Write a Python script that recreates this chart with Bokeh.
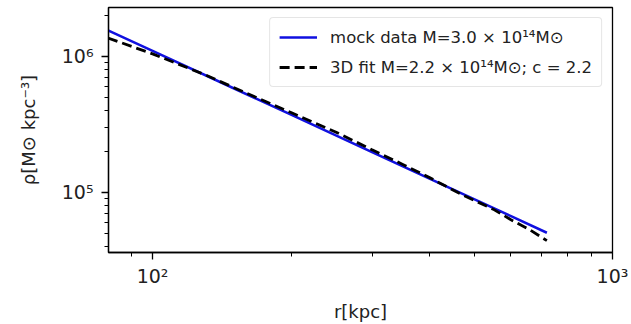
from bokeh.plotting import figure
from bokeh.models import (Range1d, FixedTicker, CustomJSTickFormatter, Legend, LegendItem)
from bokeh.embed import file_html
from bokeh.resources import INLINE

# mock data (power law)
r_mock = [80, 100, 150, 200, 300, 400, 500, 600, 720]
rho_mock = [1.55e6, 1.094e6, 5.81e5, 3.71e5, 1.97e5, 1.259e5, 8.89e4, 6.69e4, 5.03e4]

# 3D fit (NFW-like curve)
r_fit = [80, 100, 130, 160, 200, 250, 300, 350, 400, 470, 550, 600, 660, 720]
rho_fit = [1.36e6, 1.04e6, 7.3e5, 5.35e5, 3.85e5, 2.77e5, 2.05e5, 1.6e5, 1.28e5,
           9.6e4, 7.5e4, 6.3e4, 5.3e4, 4.4e4]

x_major = [100, 1000]
x_minor = [90, 200, 300, 400, 500, 600, 700, 800, 900]
y_major = [1e5, 1e6]
y_minor = [4e4, 5e4, 6e4, 7e4, 8e4, 9e4, 2e5, 3e5, 4e5, 5e5, 6e5, 7e5, 8e5, 9e5, 2e6]

label_mock = "mock data M=3.0 × 10¹⁴M⊙"
label_fit = "3D fit M=2.2 × 10¹⁴M⊙; c = 2.2"

FONT = "DejaVu Sans"

p = figure(width=631, height=324, x_axis_type="log", y_axis_type="log",
           x_range=Range1d(80.2, 1000), y_range=Range1d(3.6e4, 2.28e6),
           output_backend="svg", toolbar_location=None,
           min_border_left=108, min_border_right=19, min_border_top=7,
           min_border_bottom=71)

p.xgrid.visible = False
p.ygrid.visible = False
p.outline_line_color = "black"
p.outline_line_width = 1.3
p.background_fill_color = "white"
p.border_fill_color = "white"

l1 = p.line(r_mock, rho_mock, line_color="#1010e0", line_width=2.5)
l2 = p.line(r_fit, rho_fit, line_color="black", line_width=2.8, line_dash="10 5")

fmt = CustomJSTickFormatter(code="""
const sup = {'0':'⁰','1':'¹','2':'²','3':'³','4':'⁴','5':'⁵','6':'⁶','7':'⁷','8':'⁸','9':'⁹','-':'⁻'};
const e = Math.round(Math.log10(tick));
return '10' + String(e).split('').map(c => sup[c]).join('');
""")

p.xaxis[0].ticker = FixedTicker(ticks=x_major, minor_ticks=x_minor)
p.yaxis[0].ticker = FixedTicker(ticks=y_major, minor_ticks=y_minor)

for ax in (p.xaxis[0], p.yaxis[0]):
    ax.formatter = fmt
    ax.axis_line_color = "black"
    ax.axis_line_width = 1.3
    ax.major_tick_line_color = "black"
    ax.minor_tick_line_color = "black"
    ax.major_tick_line_width = 1.3
    ax.minor_tick_line_width = 1.0
    ax.major_tick_out = 7
    ax.major_tick_in = 0
    ax.minor_tick_out = 4
    ax.minor_tick_in = 0
    ax.major_label_text_font = FONT
    ax.major_label_text_font_size = "19px"
    ax.major_label_text_color = "#222222"
    ax.axis_label_text_font = FONT
    ax.axis_label_text_font_size = "18px"
    ax.axis_label_text_font_style = "normal"
    ax.axis_label_text_color = "#222222"

p.xaxis.axis_label = "r[kpc]"
p.yaxis.axis_label = "ρ[M⊙ kpc⁻³]"
p.xaxis.major_label_standoff = 5
p.yaxis.major_label_standoff = 8
p.xaxis.axis_label_standoff = 11
p.yaxis.axis_label_standoff = 20

legend = Legend(items=[LegendItem(label=label_mock, renderers=[l1]),
                       LegendItem(label=label_fit, renderers=[l2])],
                location="top_right")
legend.margin = 10
legend.padding = 9
legend.spacing = 10
legend.glyph_width = 38
legend.glyph_height = 20
legend.label_height = 20
legend.label_standoff = 13
legend.label_text_font = FONT
legend.label_text_font_size = "16.5px"
legend.label_text_color = "#222222"
legend.border_line_color = "#cccccc"
legend.border_line_width = 1
legend.border_radius = 4
legend.background_fill_alpha = 0.9
p.add_layout(legend)

open("out.html", "w").write(file_html(p, INLINE))
